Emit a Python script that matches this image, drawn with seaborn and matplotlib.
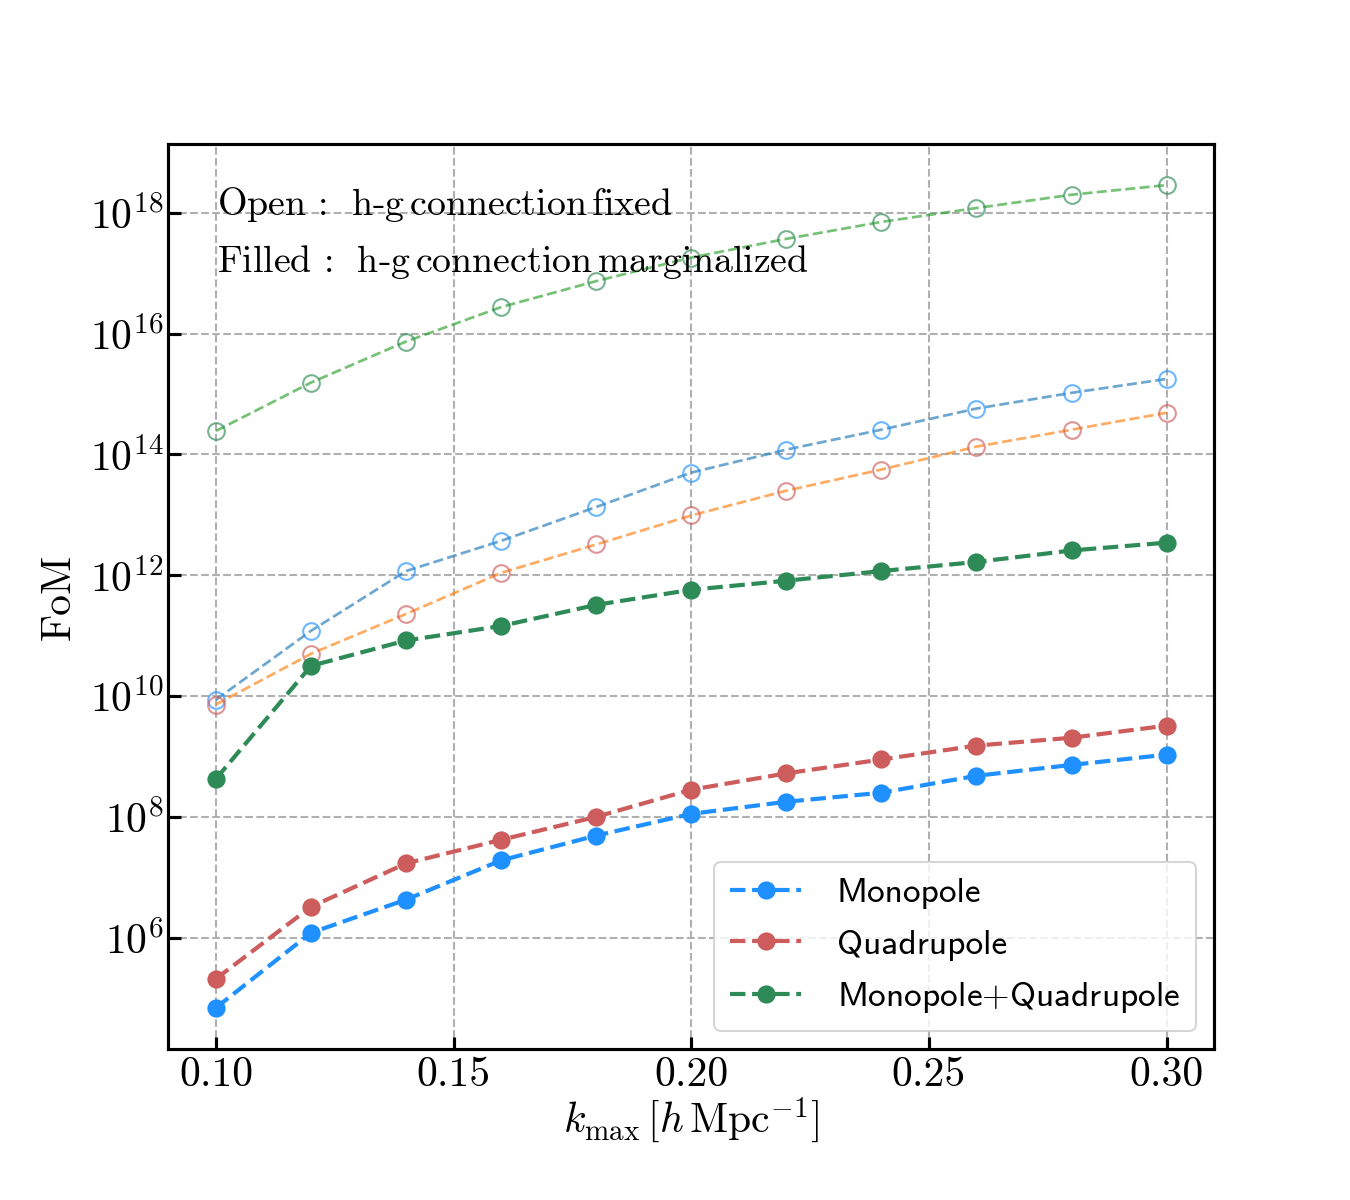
import numpy as np
import matplotlib
matplotlib.use('Agg')
import matplotlib.pyplot as plt
import seaborn as sns

# k_max values
kmax = [0.10, 0.12, 0.14, 0.16, 0.18, 0.20, 0.22, 0.24, 0.26, 0.28, 0.30]

# log10(FoM), h-g connection marginalized (filled)
mono_marg = [4.84, 6.08, 6.63, 7.28, 7.69, 8.05, 8.25, 8.40, 8.68, 8.86, 9.03]
quad_marg = [5.32, 6.51, 7.23, 7.62, 8.00, 8.45, 8.72, 8.95, 9.18, 9.31, 9.51]
mq_marg = [8.63, 10.50, 10.92, 11.16, 11.51, 11.76, 11.91, 12.07, 12.22, 12.41, 12.54]

# log10(FoM), h-g connection fixed (open)
mono_fixed = [9.94, 11.08, 12.07, 12.57, 13.13, 13.70, 14.08, 14.41, 14.76, 15.02, 15.25]
quad_fixed = [9.86, 10.70, 11.36, 12.04, 12.51, 12.99, 13.40, 13.75, 14.13, 14.41, 14.69]
mq_fixed = [14.39, 15.19, 15.87, 16.44, 16.87, 17.26, 17.57, 17.85, 18.08, 18.30, 18.46]

labels = ['Monopole', 'Quadrupole', r'Monopole$+$Quadrupole']


sns.set_style('ticks', {'axes.edgecolor': 'black', 'xtick.color': 'black',
                        'ytick.color': 'black', 'text.color': 'black',
                        'axes.labelcolor': 'black'})
plt.rcParams['font.family'] = ['cmr10', 'DejaVu Sans']
plt.rcParams['mathtext.fontset'] = 'cm'
plt.rcParams['axes.formatter.use_mathtext'] = True
plt.rcParams['axes.unicode_minus'] = False

fig, ax = plt.subplots(figsize=(9, 8), dpi=150)
fig.subplots_adjust(left=0.1244, right=0.899, top=0.88, bottom=0.126)

k = np.array(kmax)

# open markers: fixed connection
open_specs = [(mq_fixed, '#2ca02c', 'seagreen'),
              (mono_fixed, '#1f77b4', 'dodgerblue'),
              (quad_fixed, '#ff7f0e', 'indianred')]
for vals, lc, mc in open_specs:
    sns.lineplot(x=k, y=10 ** np.array(vals), ax=ax, color=lc, alpha=0.65,
                 linestyle='--', linewidth=1.3, marker='o', markersize=8,
                 markerfacecolor='none', markeredgecolor=mc, markeredgewidth=1.0)

# filled markers: marginalized connection
filled_specs = [(mono_marg, 'dodgerblue', labels[0]),
                (quad_marg, 'indianred', labels[1]),
                (mq_marg, 'seagreen', labels[2])]
for vals, c, lab in filled_specs:
    sns.lineplot(x=k, y=10 ** np.array(vals), ax=ax, color=c, label=lab,
                 linestyle='--', linewidth=2, marker='o', markersize=8,
                 markeredgecolor=c)

ax.set_yscale('log')
ax.set_xlim(0.0899, 0.3099)
ax.set_ylim(10 ** 4.16, 10 ** 19.14)
ax.set_yticks([10.0 ** e for e in range(6, 19, 2)])
ax.yaxis.set_minor_locator(matplotlib.ticker.NullLocator())
ax.set_xticks([0.10, 0.15, 0.20, 0.25, 0.30])
ax.xaxis.set_major_formatter(matplotlib.ticker.FormatStrFormatter('%.2f'))

ax.tick_params(direction='in', labelsize=20, length=6, width=1.5)
ax.tick_params(axis='y', pad=2)
for s in ax.spines.values():
    s.set_linewidth(1.5)
    s.set_visible(True)

ax.grid(True, which='major', color='#b0b0b0', linestyle='--', linewidth=1)

ax.set_xlabel(r'$k_{\rm max}\,[h\,{\rm Mpc}^{-1}]$', fontsize=20, labelpad=1)
ax.set_ylabel('FoM', fontsize=20, labelpad=6)

ax.text(0.047, 0.933, r'${\rm Open}\,{:}\ \,{\rm h}$-${\rm g\,connection\,fixed}$',
        transform=ax.transAxes, fontsize=18.2, va='center', ha='left')
ax.text(0.047, 0.870, r'${\rm Filled}\,{:}\ \,{\rm h}$-${\rm g\,connection\,marginalized}$',
        transform=ax.transAxes, fontsize=18.2, va='center', ha='left')

leg = ax.legend(loc='lower right', prop={'family': 'cmss10', 'size': 17},
                handlelength=2.0, borderpad=0.45, labelspacing=0.55, handletextpad=1.0,
                fancybox=True, framealpha=0.8)

plt.savefig('out.png', dpi=150)
